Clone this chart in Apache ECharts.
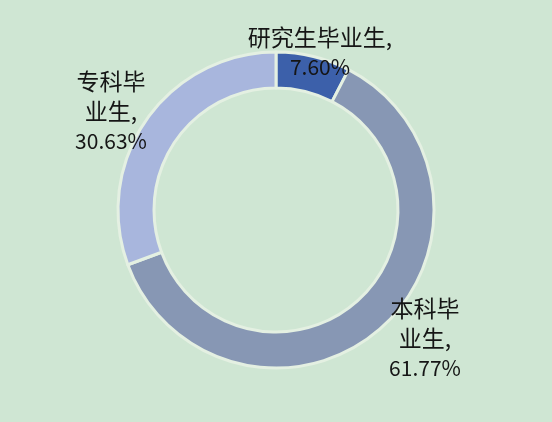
<!DOCTYPE html>
<html><head><meta charset="utf-8">
<script src="https://cdn.jsdelivr.net/npm/echarts@6/dist/echarts.min.js"></script>
<style>html,body{margin:0;padding:0;background:#cfe6d3;}#c{width:552px;height:422px;}</style>
</head><body><div id="c"></div>
<script>
const categories = ['研究生毕业生', '本科毕业生', '专科毕业生'];
const labelLines = [['研究生毕业生,'], ['本科毕', '业生,'], ['专科毕', '业生,']];
const values = [7.60, 61.77, 30.63];
const colors = ['#3c60aa', '#8797b4', '#a8b6dd'];
const labelPos = [[320, 52], [425, 338], [111, 111]];

const chart = echarts.init(document.getElementById('c'));
chart.setOption({
  backgroundColor: '#cfe6d3',
  animation: false,
  series: [{
    type: 'pie',
    center: [276, 210],
    radius: [122, 158],
    startAngle: 90,
    clockwise: true,
    silent: true,
    data: categories.map((c, i) => ({
      name: c, value: values[i],
      itemStyle: {color: colors[i]}
    })),
    itemStyle: {borderColor: '#e4f0e2', borderWidth: 3},
    label: {
      show: true,
      position: 'outside',
      formatter: p => labelLines[p.dataIndex].map(s => '{a|' + s + '}').join('\n') +
        '\n{b|' + values[p.dataIndex].toFixed(2) + '%}',
      fontFamily: 'Noto Sans CJK SC',
      color: '#151515',
      align: 'center',
      rich: {
        a: {fontFamily: 'Noto Sans CJK SC', fontSize: 23, lineHeight: 30, color: '#151515'},
        b: {fontFamily: 'Noto Sans CJK SC', fontSize: 21, lineHeight: 30, color: '#151515'}
      }
    },
    labelLine: {show: false},
    labelLayout: p => ({
      x: labelPos[p.dataIndex][0],
      y: labelPos[p.dataIndex][1],
      align: 'center',
      verticalAlign: 'middle'
    })
  }]
});
</script></body></html>
